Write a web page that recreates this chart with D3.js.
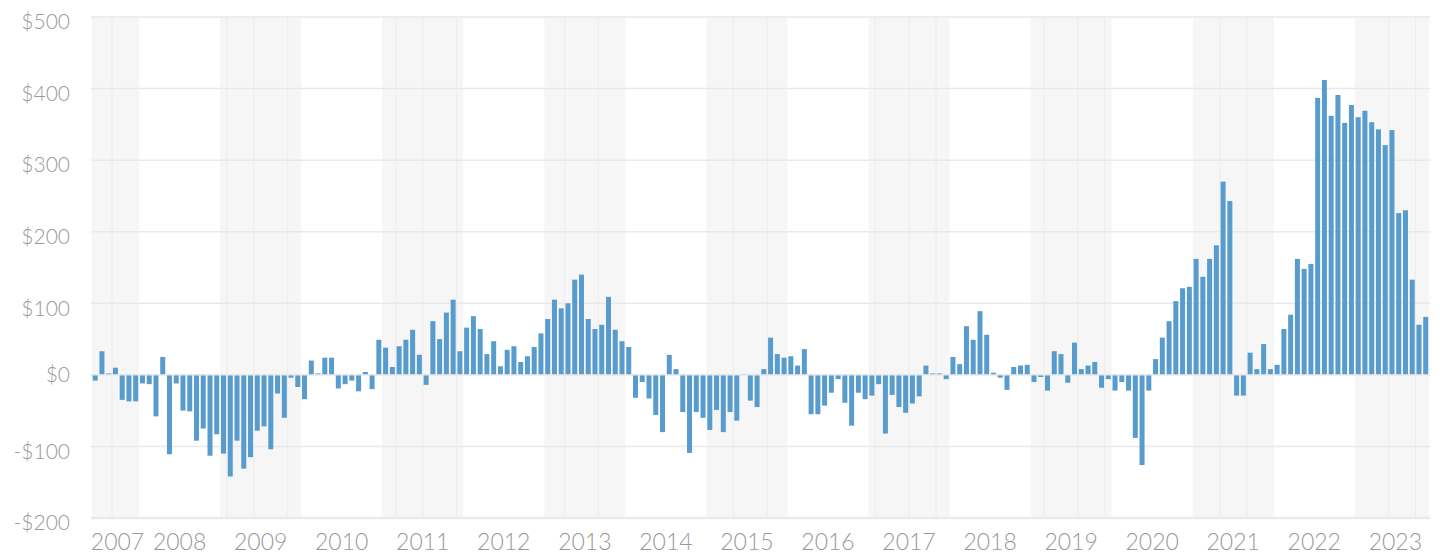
<!DOCTYPE html>
<html>
<head>
<meta charset="utf-8">
<script src="https://cdn.jsdelivr.net/npm/d3@7"></script>
<style>
  html, body { margin: 0; padding: 0; background: #fff; }
  svg { display: block; font-family: Lato, "Open Sans", sans-serif; }
  .tick-y { font-size: 21px; font-weight: 300; fill: #999; }
  .tick-x { font-size: 23px; font-weight: 300; fill: #999; }
</style>
</head>
<body>
<div id="chart"></div>
<script>
/* ---------- Data ---------- */
// first month shown: June 2007 (month index 5 = June)
const startYear = 2007, startMonth = 5;

// monthly change, one list per year (2007 starts in June, 2023 ends in November)
const v2007 = [-8, 33, 2, 10, -35, -37, -37];
const v2008 = [-12, -13, -58, 25, -111, -12, -50, -51, -92, -75, -113, -83];
const v2009 = [-110, -142, -92, -131, -115, -78, -72, -104, -26, -60, -4, -17];
const v2010 = [-34, 20, 2, 24, 24, -19, -13, -8, -23, 4, -20, 49];
const v2011 = [38, 11, 40, 49, 63, 28, -14, 75, 50, 87, 105, 33];
const v2012 = [66, 82, 64, 29, 47, 12, 35, 40, 18, 26, 39, 58];
const v2013 = [78, 105, 93, 100, 133, 140, 78, 64, 70, 109, 63, 47];
const v2014 = [39, -32, -10, -33, -56, -80, 28, 8, -52, -109, -52, -60];
const v2015 = [-77, -49, -80, -52, -64, 1, -36, -45, 8, 52, 29, 24];
const v2016 = [26, 13, 36, -55, -55, -43, -25, -6, -39, -71, -25, -34];
const v2017 = [-29, -13, -82, -28, -45, -53, -40, -30, 13, 2, 2, -6];
const v2018 = [25, 15, 68, 49, 89, 56, 3, -4, -21, 11, 13, 14];
const v2019 = [-10, -3, -22, 33, 29, -11, 45, 8, 13, 18, -18, -6];
const v2020 = [-22, -10, -22, -88, -126, -22, 22, 52, 75, 103, 121, 123];
const v2021 = [162, 137, 162, 181, 270, 243, -29, -29, 31, 8, 43, 8];
const v2022 = [14, 64, 84, 162, 148, 155, 387, 412, 362, 391, 352, 377];
const v2023 = [360, 369, 353, 343, 321, 342, 226, 230, 133, 70, 81];

const yearlyValues = [v2007, v2008, v2009, v2010, v2011, v2012, v2013, v2014,
  v2015, v2016, v2017, v2018, v2019, v2020, v2021, v2022, v2023];

const yTicks = [-200, -100, 0, 100, 200, 300, 400, 500];
const yearLabels = d3.range(2007, 2024);
const shadedYears = [2007, 2009, 2011, 2013, 2015, 2017, 2019, 2021, 2023];
// faint vertical seams inside the shaded bands ("YYYY-MM")
const seamMonths = ["2007-09", "2009-02", "2009-06", "2009-11", "2011-03", "2011-07",
  "2011-12", "2013-04", "2013-09", "2015-05", "2015-10", "2017-02", "2017-07",
  "2017-11", "2019-03", "2019-08", "2019-12", "2021-05", "2021-09", "2023-06", "2023-10"];

/* ---------- Build rows ---------- */
const rows = [];
yearlyValues.forEach((vals, yi) => {
  const year = startYear + yi;
  const m0 = yi === 0 ? startMonth : 0;
  vals.forEach((v, k) => rows.push({ idx: year * 12 + m0 + k, value: v }));
});
const monthIdx = s => { const [y, m] = s.split("-").map(Number); return y * 12 + m - 1; };

/* ---------- Chart ---------- */
const W = 1440, H = 555;
const M = { top: 17, right: 10.9, bottom: 37, left: 91.8 };

const svg = d3.select("#chart").append("svg")
  .attr("width", W).attr("height", H);

const firstIdx = d3.min(rows, d => d.idx), lastIdx = d3.max(rows, d => d.idx);
const x = d3.scaleLinear()
  .domain([firstIdx, lastIdx + 1])
  .range([M.left, W - M.right]);
const step = x(1) - x(0);

const y = d3.scaleLinear()
  .domain([-200, 500])
  .range([H - M.bottom, M.top]);

// shaded years
const clampX = v => Math.max(M.left, Math.min(W - M.right, v));
svg.append("g").selectAll("rect")
  .data(shadedYears)
  .join("rect")
    .attr("x", d => clampX(x(d * 12)))
    .attr("width", d => clampX(x(d * 12 + 12)) - clampX(x(d * 12)))
    .attr("y", y(500))
    .attr("height", y(-200) - y(500))
    .attr("fill", "#f6f6f6");

svg.append("g").selectAll("line")
  .data(seamMonths)
  .join("line")
    .attr("x1", d => x(monthIdx(d))).attr("x2", d => x(monthIdx(d)))
    .attr("y1", y(500)).attr("y2", y(-200))
    .attr("stroke", "#ececec").attr("stroke-width", 1);

// horizontal grid
svg.append("g").selectAll("line")
  .data(yTicks)
  .join("line")
    .attr("x1", M.left - 1).attr("x2", W - M.right + 1)
    .attr("y1", d => y(d)).attr("y2", d => y(d))
    .attr("stroke", d => d === -200 ? "#ebebeb" : "#e9e9e9")
    .attr("stroke-width", d => d === -200 ? 2.5 : 1.5);

// bars
const barW = 5;
svg.append("g").selectAll("rect")
  .data(rows)
  .join("rect")
    .attr("x", d => x(d.idx) + (step - barW) / 2)
    .attr("width", barW)
    .attr("y", d => y(Math.max(0, d.value)))
    .attr("height", d => Math.abs(y(d.value) - y(0)))
    .attr("fill", "#589bcd");

// zero line above bars
svg.append("line")
  .attr("x1", M.left - 1).attr("x2", W - M.right + 1)
  .attr("y1", y(0)).attr("y2", y(0))
  .attr("stroke", "#e9e9e9").attr("stroke-width", 1.2);

// y labels
const fmt = v => (v < 0 ? "-$" : "$") + Math.abs(v);
svg.append("g").selectAll("text")
  .data(yTicks)
  .join("text")
    .attr("class", "tick-y")
    .attr("x", 70)
    .attr("y", d => y(d) + (d === 0 ? 0 : 5))
    .attr("dy", "0.35em")
    .attr("text-anchor", "end")
    .text(fmt);

// year labels, centred on each year, kept inside the plot
const xl = svg.append("g").selectAll("text")
  .data(yearLabels)
  .join("text")
    .attr("class", "tick-x")
    .attr("y", H - 5)
    .attr("text-anchor", "middle")
    .text(d => d);
xl.attr("x", function(d) {
  const half = this.getComputedTextLength() / 2;
  return Math.max(M.left + half - 1, x(d * 12 + 6));
});
</script>
</body>
</html>
